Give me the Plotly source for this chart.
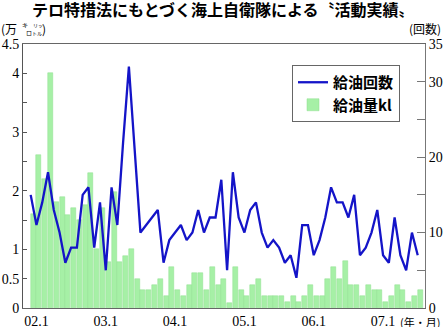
import plotly.graph_objects as go

# ---- data (monthly, Dec 2001 .. Jul 2007) ----
months = [f"{(11 + k) // 12 + 1:02d}.{(11 + k) % 12 + 1}" for k in range(68)]  # "01.12" ... "07.7"
oil_kl = [1.61, 2.61, 2.20, 4.00, 1.80, 1.90, 1.58, 1.70, 1.50, 1.75,
          2.30, 1.00, 1.70, 0.78, 1.97, 0.78, 0.89, 1.00, 0.50, 0.31,
          0.31, 0.40, 0.50, 0.20, 0.70, 0.31, 0.20, 0.40, 0.60, 0.60,
          0.31, 0.70, 0.40, 0.50, 0.09, 0.70, 0.31, 0.20, 0.40, 0.50,
          0.20, 0.20, 0.20, 0.20, 0.10, 0.20, 0.10, 0.20, 0.40, 0.20,
          0.20, 0.50, 0.70, 0.50, 0.80, 0.40, 0.40, 0.20, 0.40, 0.30,
          0.30, 0.10, 0.20, 0.40, 0.30, 0.10, 0.20, 0.30]
oil_count = [15, 11, 14, 18, 13, 10, 6, 8, 8, 15,
             16, 8, 14, 5, 16, 11, 22, 32, 21, 10,
             11, 12, 13, 6, 9, 10, 11, 9, 10, 13,
             10, 12, 12, 17, 5, 18, 12, 10, 13, 14,
             10, 8, 9, 8, 6, 7, 4, 11, 11, 7,
             9, 12, 16, 14, 14, 12, 15, 7, 8, 10,
             13, 7, 6, 12, 7, 5, 10, 7]
x_tick_labels = ["02.1", "03.1", "04.1", "05.1", "06.1", "07.1"]
left_ticks = [0, 0.5, 1, 1.5, 2, 2.5, 3, 3.5, 4, 4.5]
left_text = ["0", "0.5", "1", "", "2", "", "3", "", "4", "4.5"]
right_ticks = [0, 5, 10, 15, 20, 25, 30, 35]
right_text = ["0", "", "10", "", "20", "", "30", "35"]

idx = list(range(len(months)))
x_tickvals = [months.index(t) for t in x_tick_labels]

W, H = 445, 327
ML, MR, MT, MB = 23, 20, 44, 19
PW, PH = W - ML - MR, H - MT - MB


def px(xp):
    return (xp - ML) / PW


def py(yp):
    return (H - MB - yp) / PH


fig = go.Figure()
fig.add_trace(go.Bar(
    x=idx, y=oil_kl, name="給油量kl", offset=0, width=0.87,
    marker=dict(color="#a6f0a6", line=dict(color="#8ede8e", width=0.5)),
    yaxis="y", legendrank=2,
))
fig.add_trace(go.Scatter(
    x=idx, y=oil_count, name="給油回数", mode="lines",
    line=dict(color="#1414c8", width=2.3),
    yaxis="y2", legendrank=1,
))

tick_font = dict(family="Liberation Serif", size=14, color="black")
fig.update_layout(
    template="none",
    width=W, height=H,
    margin=dict(l=ML, r=MR, t=MT, b=MB, pad=0),
    paper_bgcolor="white", plot_bgcolor="white",
    bargap=0,
    xaxis=dict(range=[-1.33, 68.26], tickvals=x_tickvals, ticktext=x_tick_labels,
               ticks="", showgrid=False, zeroline=False, showline=True, automargin=False,
               linecolor="#666", linewidth=1, mirror=True, tickfont=tick_font),
    yaxis=dict(range=[0, 4.5], tickvals=left_ticks, ticktext=left_text, automargin=False,
               ticks="inside", ticklen=4, tickcolor="#555", showgrid=False,
               zeroline=False, showline=True, linecolor="#555", linewidth=1,
               tickfont=tick_font),
    yaxis2=dict(range=[0, 35], overlaying="y", side="right", tickvals=right_ticks,
                ticktext=right_text, ticks="inside", ticklen=8, tickcolor="#777",
                showgrid=False, zeroline=False, showline=True, linecolor="#777",
                linewidth=1, tickfont=tick_font, automargin=False),
    legend=dict(x=px(292), y=py(65), xanchor="left", yanchor="top",
                bgcolor="white", bordercolor="#666", borderwidth=1,
                font=dict(family="Noto Sans CJK JP", size=15, color="black", weight="bold"),
                itemwidth=30, tracegroupgap=0),
    showlegend=True,
)

ann = []
ann.append(dict(text="テロ特措法にもとづく海上自衛隊による〝活動実績〟", x=px(223), y=py(9),
                font=dict(family="Noto Sans CJK JP", size=16, color="black", weight="bold")))
ann.append(dict(text="(万", x=px(0), y=py(29), xanchor="left",
                font=dict(family="Noto Sans CJK JP", size=12, color="black")))
ann.append(dict(text="キ", x=px(21), y=py(25), xanchor="left",
                font=dict(family="Noto Sans CJK JP", size=6, color="black")))
ann.append(dict(text="ロ", x=px(25), y=py(33), xanchor="left",
                font=dict(family="Noto Sans CJK JP", size=6, color="black")))
ann.append(dict(text="リッ", x=px(32), y=py(25), xanchor="left",
                font=dict(family="Noto Sans CJK JP", size=5, color="black")))
ann.append(dict(text="トル", x=px(31), y=py(32), xanchor="left",
                font=dict(family="Noto Sans CJK JP", size=5, color="black")))
ann.append(dict(text=")", x=px(41), y=py(29), xanchor="left",
                font=dict(family="Noto Sans CJK JP", size=12, color="black")))
ann.append(dict(text="(回数)", x=px(408), y=py(29), xanchor="left",
                font=dict(family="Noto Sans CJK JP", size=12, color="black")))
ann.append(dict(text="(年・月)", x=px(399), y=py(322), xanchor="left",
                font=dict(family="Noto Sans CJK JP", size=11, color="black")))
for a in ann:
    a.update(xref="paper", yref="paper", showarrow=False, yanchor="middle",
             borderpad=0)
    a.setdefault("xanchor", "center")
fig.update_layout(annotations=ann)

fig.write_html("out.html")
